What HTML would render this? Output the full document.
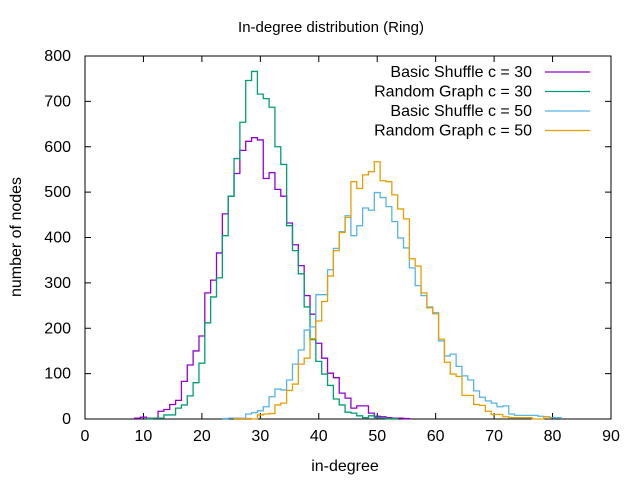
<!DOCTYPE html>
<html><head><meta charset="utf-8"><style>
body{margin:0;background:#fff;}
svg{display:block;font-family:"Liberation Sans",sans-serif;font-size:16px;}
</style></head><body>
<svg id="chart" width="640" height="480" viewBox="0 0 640 480">
<rect width="640" height="480" fill="#fff"/>
<text x="331" y="32" text-anchor="middle" font-size="15">In-degree distribution (Ring)</text>
<text x="345" y="471" text-anchor="middle">in-degree</text>
<text transform="translate(21,237) rotate(-90)" text-anchor="middle">number of nodes</text>
<g id="axes"></g>
<g id="series"></g>
<g id="legend"></g>
</svg>
<script>
const xTicks=[0,10,20,30,40,50,60,70,80,90];
const yTicks=[0,100,200,300,400,500,600,700,800];
const seriesNames=["Basic Shuffle c = 30","Random Graph c = 30","Basic Shuffle c = 50","Random Graph c = 50"];
const seriesColors=["#9400d3","#009e73","#56b4e9","#e69f00"];
const seriesStart=[9,11,24,26];
const basic30=[2,4,2,2,17,21,32,41,83,119,150,183,278,306,366,452,491,541,592,612,620,615,530,543,506,491,432,384,338,272,231,167,134,101,91,57,46,24,29,29,13,6,5,3,2,2,1];
const random30=[1,2,2,9,9,24,31,51,80,123,212,269,311,404,491,574,654,746,766,716,706,687,600,561,426,371,320,247,175,127,99,74,44,31,15,13,7,3,7,3,2,1,1];
const basic50=[1,2,2,2,11,14,18,27,49,66,64,86,121,152,196,203,274,274,329,376,413,448,404,426,465,460,499,488,468,435,399,377,333,294,272,247,234,172,139,143,116,95,86,62,48,40,35,27,29,11,8,8,8,8,6,5,3,3];
const random50=[1,1,1,0,9,11,12,31,35,63,77,121,134,177,216,259,315,371,411,444,523,508,538,545,567,525,523,494,463,441,353,337,278,245,232,176,125,99,94,52,52,32,30,17,10,10,5,3,3,3,3,0,0,5];
const seriesData=[basic30,random30,basic50,random50];

const L=85,R=611,T=56,B=419;
const X=v=>L+(v-0)*(R-L)/90;
const Y=v=>B-(v-0)*(B-T)/800;
const NS="http://www.w3.org/2000/svg";
function mk(tag,attrs,parent){const e=document.createElementNS(NS,tag);for(const k in attrs)e.setAttribute(k,attrs[k]);parent.appendChild(e);return e;}
const axes=document.getElementById('axes');
xTicks.forEach(t=>{
  const g=mk('g',{},axes);
  
  
  const x=X(t);
  mk('line',{x1:x,y1:B,x2:x,y2:B-6,stroke:'#000'},g);
  mk('line',{x1:x,y1:T,x2:x,y2:T+6,stroke:'#000'},g);
  const tx=mk('text',{x:x,y:B+22,'text-anchor':'middle'},g);tx.textContent=t;
});
yTicks.forEach(t=>{
  const g=mk('g',{},axes);
  
  
  const y=Y(t);
  mk('line',{x1:L,y1:y,x2:L+6,y2:y,stroke:'#000'},g);
  mk('line',{x1:R,y1:y,x2:R-6,y2:y,stroke:'#000'},g);
  const tx=mk('text',{x:L-14,y:y+5,'text-anchor':'end'},g);tx.textContent=t;
});
const frame=mk('rect',{x:L,y:T,width:R-L,height:B-T,fill:'none',stroke:'#000'},axes);



const sg=document.getElementById('series');
seriesData.forEach((arr,i)=>{
  const s=seriesStart[i];
  let d='M'+X(s-0.5)+','+Y(0);
  arr.forEach((v,j)=>{const k=s+j;d+=' L'+X(k-0.5)+','+Y(v)+' L'+X(k+0.5)+','+Y(v);});
  d+=' L'+X(s+arr.length-0.5)+','+Y(0);
  const p=mk('path',{d:d,fill:'none',stroke:seriesColors[i],'stroke-width':1.3},sg);
  
  
});
const lg=document.getElementById('legend');
seriesNames.forEach((n,i)=>{
  const g=mk('g',{},lg);
  
  
  const y=72+i*19.5;
  const t=mk('text',{x:532,y:y+5,'text-anchor':'end'},g);t.textContent=n;
  mk('line',{x1:545,y1:y,x2:590,y2:y,stroke:seriesColors[i],'stroke-width':1.3},g);
});
</script>
</body></html>
